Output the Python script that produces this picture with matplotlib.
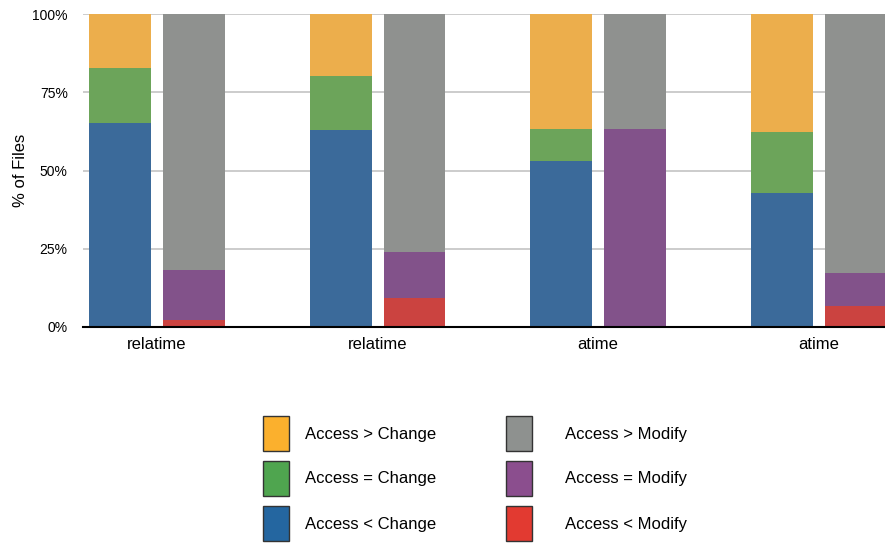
import numpy as np
import matplotlib
matplotlib.use("Agg")
from matplotlib import pyplot as plt
from matplotlib.patches import Rectangle

plt.rcParams['font.family'] = ['Liberation Sans', 'DejaVu Sans']

# x labels for the four groups
groups = ["relatime", "relatime", "atime", "atime"]

# left bar of each group (Access vs Change), percent
access_lt_change = [65.1, 62.8, 52.9, 42.7]
access_eq_change = [17.6, 17.3, 10.2, 19.7]
access_gt_change = [17.3, 19.9, 36.9, 37.6]

# right bar of each group (Access vs Modify), percent
access_lt_modify = [2.1, 9.2, 0.3, 6.6]
access_eq_modify = [16.0, 14.9, 62.8, 10.5]
access_gt_modify = [81.9, 75.9, 36.9, 82.9]

bar_colors = {"lt_c": "#3B6A9A", "eq_c": "#6CA45A", "gt_c": "#ECAE4C",
              "lt_m": "#CB4340", "eq_m": "#82528A", "gt_m": "#8F918F"}
legend_colors = {"lt_c": "#2466A0", "eq_c": "#4FA54F", "gt_c": "#FBB02D",
                 "lt_m": "#E23A31", "eq_m": "#8B4E8E", "gt_m": "#8E918F"}

W, H = 885, 543
fig = plt.figure(figsize=(W / 100, H / 100), dpi=100)
ax = fig.add_axes([83 / W, 1 - 327 / H, 1 - 83 / W, 313 / H])

x = np.arange(len(groups))
w = 0.28
off = 0.167

left = x - off
right = x + off

b1 = np.array(access_lt_change)
b2 = b1 + np.array(access_eq_change)
ax.bar(left, access_lt_change, w, color=bar_colors["lt_c"], zorder=3)
ax.bar(left, access_eq_change, w, bottom=b1, color=bar_colors["eq_c"], zorder=3)
ax.bar(left, access_gt_change, w, bottom=b2, color=bar_colors["gt_c"], zorder=3)

m1 = np.array(access_lt_modify)
m2 = m1 + np.array(access_eq_modify)
ax.bar(right, access_lt_modify, w, color=bar_colors["lt_m"], zorder=3)
ax.bar(right, access_eq_modify, w, bottom=m1, color=bar_colors["eq_m"], zorder=3)
ax.bar(right, access_gt_modify, w, bottom=m2, color=bar_colors["gt_m"], zorder=3)

ax.set_xlim(-0.335, 3.30)
ax.set_ylim(0, 100)
ax.set_yticks([0, 25, 50, 75, 100])
ax.set_yticklabels(["0%", "25%", "50%", "75%", "100%"], fontsize=10)
ax.set_xticks(x)
ax.set_xticklabels(groups, fontsize=12)
ax.tick_params(axis="y", length=0, pad=11)
ax.tick_params(axis="x", length=0, pad=7.5)
ax.yaxis.grid(True, color="#C8C8C8", linewidth=1.3, zorder=0)
ax.set_axisbelow(True)
for s in ["top", "right", "left"]:
    ax.spines[s].set_visible(False)
ax.spines["bottom"].set_color("black")
ax.spines["bottom"].set_linewidth(1.5)
ax.spines["bottom"].set_zorder(4)
ax.set_ylabel("% of Files", fontsize=12)
ax.yaxis.set_label_coords(-0.068, 0.5)

# legend drawn by hand: two columns, three rows
leg_cols = [
    (263, 305, ["gt_c", "eq_c", "lt_c"], ["Access > Change", "Access = Change", "Access < Change"]),
    (506, 565, ["gt_m", "eq_m", "lt_m"], ["Access > Modify", "Access = Modify", "Access < Modify"]),
]
for box_x, text_x, keys, labels in leg_cols:
    for i, (k, lab) in enumerate(zip(keys, labels)):
        top = 416 + 45 * i
        fig.add_artist(Rectangle((box_x / W, 1 - (top + 35) / H), 26 / W, 35 / H,
                                 transform=fig.transFigure, facecolor=legend_colors[k],
                                 edgecolor="#333333", linewidth=1))
        fig.text(text_x / W, 1 - (top + 18) / H, lab, fontsize=12, va="center", ha="left")

fig.savefig("out.png", dpi=100)
